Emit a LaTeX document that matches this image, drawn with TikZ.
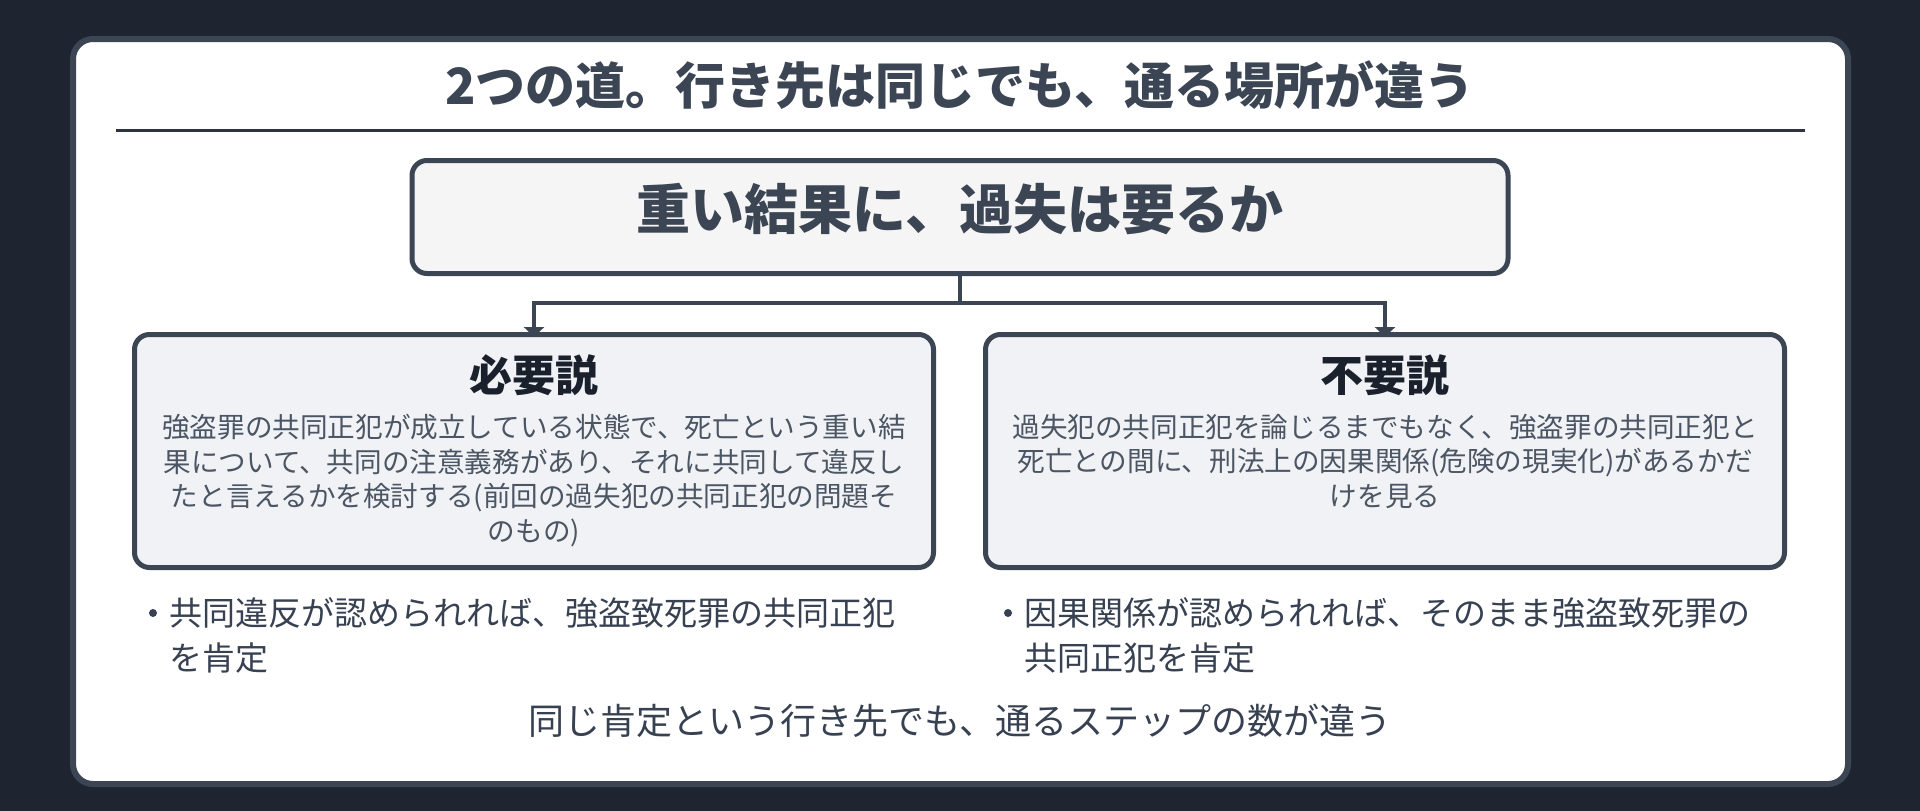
\documentclass[tikz,border=0pt]{standalone}
\usepackage{fontspec}
\setmainfont{Noto Sans CJK JP}
\usetikzlibrary{arrows.meta}
\pgfdeclarelayer{back}
\pgfdeclarelayer{bg}
\pgfsetlayers{back,bg,main}
\definecolor{pagebg}{HTML}{1E2530}
\definecolor{edge}{HTML}{3B4553}
\definecolor{rulec}{HTML}{2D3440}
\definecolor{qfill}{HTML}{F5F5F5}
\definecolor{bfill}{HTML}{F0F2F5}
\definecolor{titlec}{HTML}{3B4553}
\definecolor{headc}{HTML}{1A202C}
\definecolor{bodyc}{HTML}{4B5563}
\definecolor{bulc}{HTML}{374151}
\begin{document}
\begin{tikzpicture}[x=1pt,y=-1pt,
  card/.style={draw=edge,line width=6pt,fill=white,rounded corners=20pt,minimum width=1775pt,minimum height=745pt,inner sep=0pt},
  qbox/.style={draw=edge,line width=5pt,fill=qfill,rounded corners=15pt,minimum width=1096pt,minimum height=113pt,inner sep=0pt},
  sbox/.style={draw=edge,line width=5pt,fill=bfill,rounded corners=15pt,minimum width=799pt,minimum height=233pt,inner sep=0pt},
  titletxt/.style={text=titlec,inner sep=0pt,font=\fontsize{50}{58}\selectfont\bfseries},
  qtxt/.style={text=titlec,inner sep=0pt,font=\fontsize{54}{64}\selectfont\bfseries},
  headtxt/.style={text=headc,inner sep=0pt,font=\fontsize{43}{50}\selectfont\bfseries},
  bodytxt/.style={text=bodyc,inner sep=0pt,align=center,font=\fontsize{27.6}{34.5}\selectfont},
  bultxt/.style={text=bulc,inner sep=0pt,align=left,font=\fontsize{33}{45}\selectfont},
  dot/.style={circle,fill=bulc,minimum size=8pt,inner sep=0pt},
  foottxt/.style={text=bulc,inner sep=0pt,font=\fontsize{36}{42}\selectfont},
  conn/.style={draw=edge,line width=4pt},
  arr/.style={conn,-{Triangle[width=20pt,length=10pt]},shorten >=-5pt}
]
\useasboundingbox (0,0) rectangle (1920,811);
\begin{pgfonlayer}{back}
\fill[pagebg] (0,0) rectangle (1920,811);
\node[card] (card) at (960.5,411.5) {};
\end{pgfonlayer}
\node[titletxt,anchor=base] (title) at (960,104) {2つの道。行き先は同じでも、通る場所が違う};
\draw[rulec,line width=3pt] (116,130) -- (1805,130);
\node[qbox] (q) at (960,217) {};
\node[qtxt,anchor=base] (qt) at (960,229.5) {重い結果に、過失は要るか};
\node[sbox] (L) at (534,451) {};
\node[sbox] (R) at (1385,451) {};
\coordinate (j) at (960,303);
\begin{pgfonlayer}{bg}
\draw[conn] (q.south) -- (j);
\draw[arr] (j) -| (L.north);
\draw[arr] (j) -| (R.north);
\end{pgfonlayer}
\node[headtxt,anchor=base] (Lh) at (534,391) {必要説};
\node[headtxt,anchor=base] (Rh) at (1385,391) {不要説};
\node[bodytxt,anchor=north] (Lb) at (534,414) {強盗罪の共同正犯が成立している状態で、死亡という重い結\\果について、共同の注意義務があり、それに共同して違反し\\たと言えるかを検討する(前回の過失犯の共同正犯の問題そ\\のもの)};
\node[bodytxt,anchor=north] (Rb) at (1385,414) {過失犯の共同正犯を論じるまでもなく、強盗罪の共同正犯と\\死亡との間に、刑法上の因果関係(危険の現実化)があるかだ\\けを見る};
\node[dot] (Ld) at (153,613) {};
\node[bultxt,anchor=north west] (Lt) at (169,597) {共同違反が認められれば、強盗致死罪の共同正犯\\を肯定};
\node[dot] (Rd) at (1008,613) {};
\node[bultxt,anchor=north west] (Rt) at (1024,597) {因果関係が認められれば、そのまま強盗致死罪の\\共同正犯を肯定};
\node[foottxt,anchor=base] (foot) at (960,734) {同じ肯定という行き先でも、通るステップの数が違う};
\end{tikzpicture}
\end{document}
